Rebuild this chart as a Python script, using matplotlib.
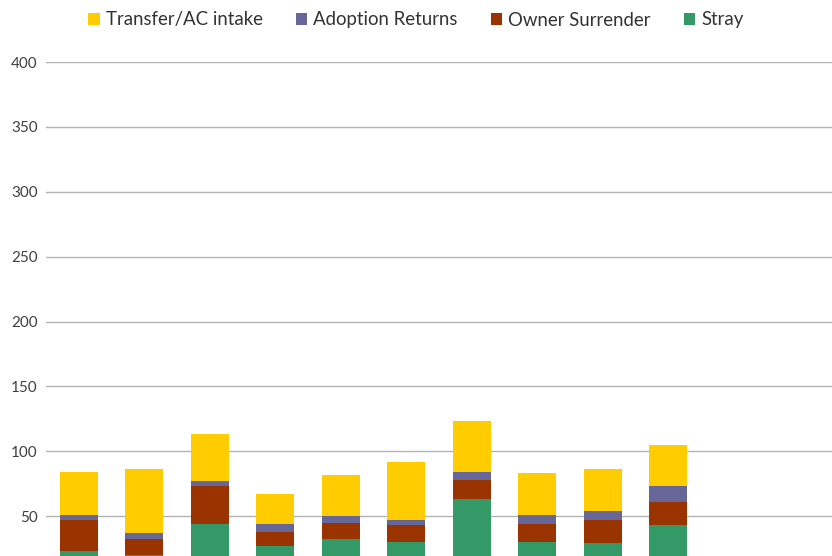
import numpy as np
import matplotlib.pyplot as plt

plt.rcParams['font.family'] = ['Lato', 'DejaVu Sans']

months = ['Jan', 'Feb', 'Mar', 'Apr', 'May', 'Jun',
          'Jul', 'Aug', 'Sep', 'Oct', 'Nov', 'Dec']
stray = [23, 20, 44, 27, 32, 30, 63, 30, 29, 43]
owner_surrender = [24, 12, 29, 11, 13, 13, 15, 14, 18, 18]
adoption_returns = [4, 5, 4, 6, 5, 4, 6, 7, 7, 12]
transfer_ac = [33, 49, 36, 23, 32, 45, 39, 32, 32, 32]

colors = {'stray': '#339966', 'owner': '#993300',
          'adopt': '#666699', 'transfer': '#FFCC00'}

fig = plt.figure(figsize=(8.32, 5.56), dpi=100)
# the bottom of the plot area falls below the picture edge (cropped chart)
ax = fig.add_axes([46 / 832, -25 / 556, 786 / 832, 519 / 556])

x = np.arange(len(stray))
w = 0.58
s = np.array(stray)
o = np.array(owner_surrender)
a = np.array(adoption_returns)
t = np.array(transfer_ac)

b_s = ax.bar(x, s, w, color=colors['stray'], label='Stray', zorder=3)
b_o = ax.bar(x, o, w, bottom=s, color=colors['owner'],
             label='Owner Surrender', zorder=3)
b_a = ax.bar(x, a, w, bottom=s + o, color=colors['adopt'],
             label='Adoption Returns', zorder=3)
b_t = ax.bar(x, t, w, bottom=s + o + a, color=colors['transfer'],
             label='Transfer/AC intake', zorder=3)

ax.set_xlim(-0.5, len(months) - 0.5)
ax.set_ylim(0, 400)
# the 0 line and the month labels are cut off in the reference
ax.set_yticks(range(50, 401, 50))
ax.set_xticks(range(len(months)))
ax.set_xticklabels(months)
ax.tick_params(axis='x', labelbottom=False)
ax.yaxis.grid(True, color='#b3b3b3', linewidth=1.0, zorder=0)
ax.tick_params(axis='both', length=0, labelsize=11, labelcolor='#404040',
               pad=6)
for sp in ax.spines.values():
    sp.set_visible(False)

fig.legend([b_t, b_a, b_o, b_s],
           ['Transfer/AC intake', 'Adoption Returns', 'Owner Surrender', 'Stray'],
           loc='center', bbox_to_anchor=(0.5, 1 - 20 / 556), ncol=4,
           frameon=False, fontsize=13.4, handlelength=0.6, handleheight=0.6,
           handletextpad=0.32, columnspacing=1.8, labelcolor='#333333')

fig.savefig('out.png', dpi=100)
